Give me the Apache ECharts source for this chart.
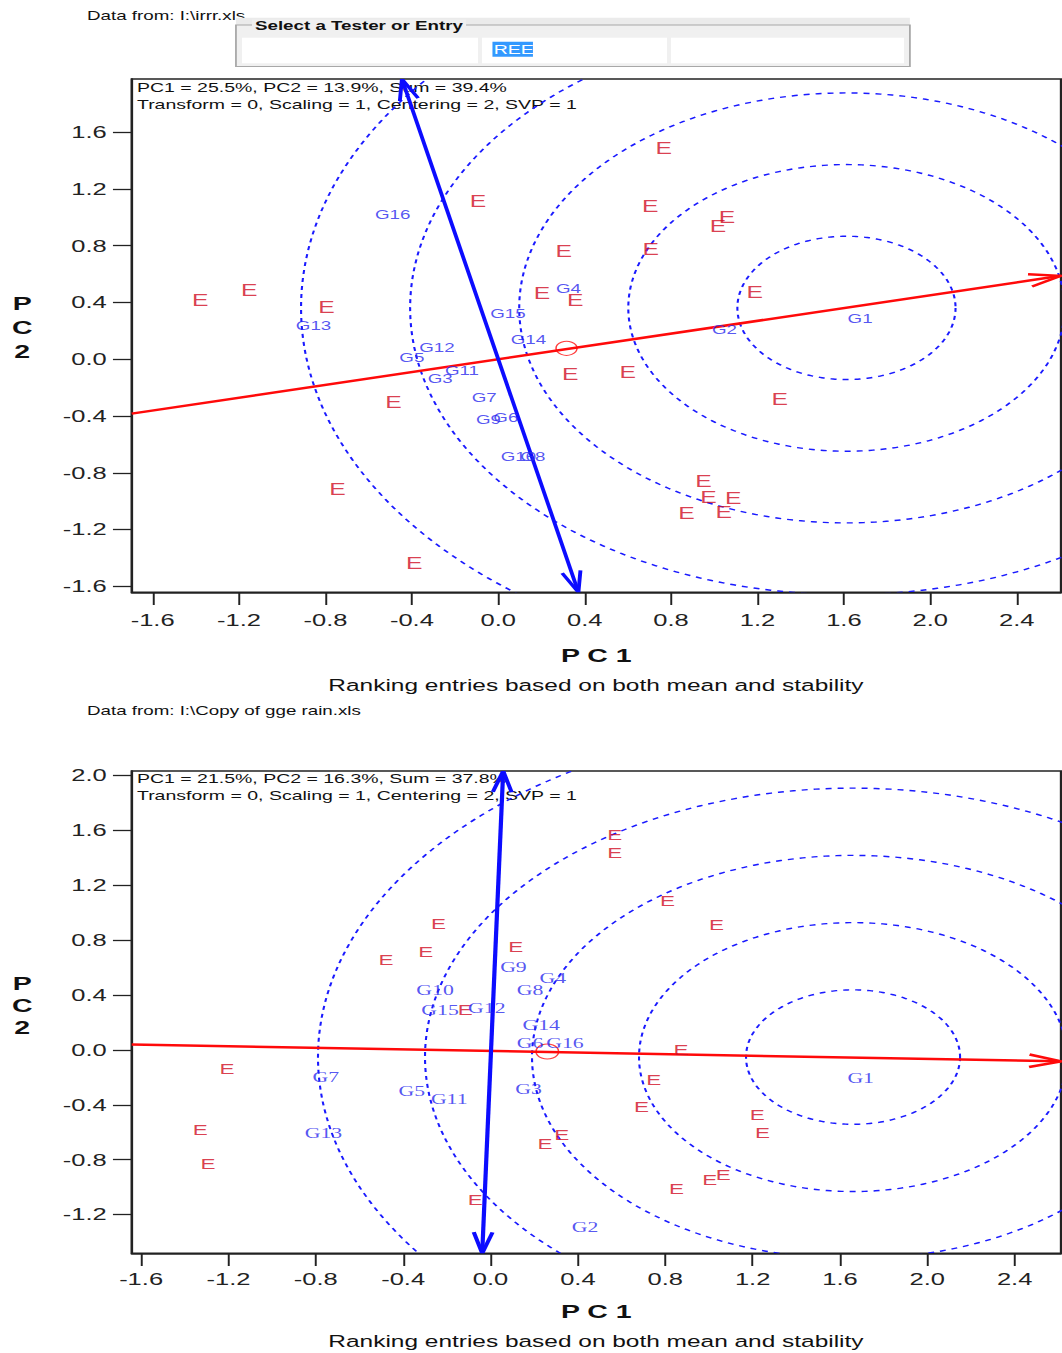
<!DOCTYPE html>
<html><head><meta charset="utf-8">
<script src="https://cdn.jsdelivr.net/npm/echarts@6/dist/echarts.min.js"></script>
<style>
html,body{margin:0;padding:0;background:#fff;overflow:hidden;width:1062px;height:1353px;}
#wrap{width:708px;height:1353px;transform:scaleX(1.5);transform-origin:0 0;}
#chart{width:708px;height:1353px;}
</style></head><body><div id="wrap"><div id="chart"></div></div>
<script>
// ---------------- DATA ----------------
// Top biplot (irrr.xls)
const topXRange = [-1.697, 2.605];
const topYRange = [-1.642, 1.975];
const topXTicks = [-1.6, -1.2, -0.8, -0.4, 0.0, 0.4, 0.8, 1.2, 1.6, 2.0, 2.4];
const topYTicks = [-1.6, -1.2, -0.8, -0.4, 0.0, 0.4, 0.8, 1.2, 1.6];
const topEnv = [[-0.094,1.114],[0.303,0.765],[-1.380,0.418],[-1.153,0.488],[-0.795,0.366],[0.202,0.465],
  [0.356,0.418],[0.766,1.487],[0.704,1.080],[1.059,1.001],[1.017,0.939],[0.706,0.775],[1.188,0.472],
  [-0.485,-0.303],[-0.744,-0.916],[-0.389,-1.438],[0.333,-0.104],[0.600,-0.087],[1.303,-0.282],
  [0.950,-0.856],[0.973,-0.968],[1.088,-0.980],[1.044,-1.074],[0.871,-1.081]];
const topGenoNames = ['G1','G2','G3','G4','G5','G6','G7','G8','G9','G10','G11','G12','G13','G14','G15','G16'];
const topGenoX = [1.675, 1.047, -0.269, 0.325, -0.400, 0.035, -0.065, 0.160, -0.045, 0.093, -0.168, -0.284, -0.855, 0.140, 0.045, -0.489];
const topGenoY = [0.284, 0.211, -0.134, 0.495, 0.009, -0.413, -0.271, -0.686, -0.428, -0.686, -0.080, 0.085, 0.235, 0.141, 0.324, 1.017];
const topAecPoint = [0.316, 0.077];
const topAecAbscissa = [-1.697, -0.383, 2.605, 0.588];
const topAecOrdinate = [-0.446, 1.975, 0.371, -1.642];
const topIdeal = [1.612, 0.362];
const topRadii = [0.505, 1.01, 1.515, 2.02, 2.525];

// Bottom biplot (Copy of gge rain.xls)
const botXRange = [-1.643, 2.612];
const botYRange = [-1.482, 2.033];
const botXTicks = [-1.6, -1.2, -0.8, -0.4, 0.0, 0.4, 0.8, 1.2, 1.6, 2.0, 2.4];
const botYTicks = [-1.2, -0.8, -0.4, 0.0, 0.4, 0.8, 1.2, 1.6, 2.0];
const botEnv = [[-0.238,0.918],[-0.296,0.716],[-0.478,0.656],[0.116,0.748],[-0.116,0.292],[0.569,1.567],
  [0.569,1.439],[0.810,1.087],[1.035,0.911],[-1.207,-0.137],[-1.329,-0.585],[-1.294,-0.833],[0.250,-0.687],
  [0.326,-0.622],[-0.070,-1.095],[0.872,0.001],[0.748,-0.217],[0.691,-0.416],[1.221,-0.476],[1.245,-0.605],
  [1.004,-0.949],[1.066,-0.913],[0.852,-1.015]];
const botGenoNames = ['G1','G2','G3','G4','G5','G6','G7','G8','G9','G10','G11','G12','G13','G14','G15','G16'];
const botGenoX = [1.695, 0.433, 0.174, 0.285, -0.360, 0.181, -0.754, 0.181, 0.105, -0.254, -0.189, -0.017, -0.765, 0.232, -0.231, 0.341];
const botGenoY = [-0.210, -1.289, -0.287, 0.525, -0.300, 0.045, -0.198, 0.433, 0.602, 0.433, -0.362, 0.307, -0.605, 0.183, 0.292, 0.045];
const botAecPoint = [0.260, -0.011];
const botAecAbscissa = [-1.643, 0.040, 2.612, -0.083];
const botAecOrdinate = [0.058, 2.033, -0.038, -1.482];
const botIdeal = [1.660, -0.052];
const botRadii = [0.49, 0.98, 1.47, 1.96, 2.45];

// ---------------- STYLE ----------------
const SANS = '"Liberation Sans", Arial, sans-serif';
const SERIF = '"Liberation Serif", "Times New Roman", serif';
const RED_TXT = '#d00c22', RED_LINE = '#ff0a0a', BLUE = '#0c0cff', DASH_BLUE = '#1a1aff', LABBLUE = '#2a2aee', AX = '#222';

const grids = [
  {left: 87.8, top: 79, width: 619.5, height: 513.3},
  {left: 87.8, top: 771, width: 619.5, height: 482.3}
].map(g => Object.assign(g, {show: true, borderColor: AX, borderWidth: 1.5, backgroundColor: 'transparent', containLabel: false, outerBoundsMode: 'none'}));

const fmt = v => Number(v).toFixed(1);
function xAxis(gi, range, ticks, margin, nameGap) {
  return {type: 'value', gridIndex: gi, min: range[0], max: range[1], position: 'bottom',
    axisLine: {show: true, onZero: false, lineStyle: {color: AX, width: 1.5}},
    axisTick: {show: true, length: 12.7, customValues: ticks, lineStyle: {color: AX, width: 1.3}},
    axisLabel: {show: true, customValues: ticks, formatter: fmt, margin, color: AX, fontFamily: SANS, fontSize: 17},
    splitLine: {show: false},
    name: 'P C 1', nameLocation: 'middle', nameGap, nameMoveOverlap: false,
    nameTextStyle: {fontFamily: SANS, fontWeight: 'bold', fontSize: 19, color: '#111', verticalAlign: 'middle', align: 'center'}};
}
function yAxis(gi, range, ticks, lh, padLh) {
  const st = {fontFamily: SANS, fontWeight: 'bold', fontSize: 19, lineHeight: lh, color: '#111', align: 'center'};
  return {type: 'value', gridIndex: gi, min: range[0], max: range[1], position: 'left',
    axisLine: {show: true, onZero: false, lineStyle: {color: AX, width: 1.5}},
    axisTick: {show: true, length: 12.5, customValues: ticks, lineStyle: {color: AX, width: 1.3}},
    axisLabel: {show: true, customValues: ticks, formatter: fmt, margin: 16.7, color: AX, fontFamily: SANS, fontSize: 17},
    splitLine: {show: false},
    name: '{a|P}\n{a|C}\n{a|2}\n{b|}', nameLocation: 'middle', nameGap: 73, nameRotate: 0, nameMoveOverlap: false,
    nameTextStyle: Object.assign({}, st, {verticalAlign: 'middle',
      rich: {a: st, b: {fontSize: 2, lineHeight: padLh}}})};
}

function circles(gi, center, radii) {
  return {type: 'custom', xAxisIndex: gi, yAxisIndex: gi, clip: true, silent: true, z: 2,
    data: radii.map(r => [center[0], center[1], r]), encode: {x: 0, y: 1},
    renderItem: (params, api) => {
      const c = api.coord([api.value(0), api.value(1)]);
      const s = api.size([api.value(2), api.value(2)]);
      const pts = [];
      for (let k = 0; k <= 360; k++) { const t = k / 360 * 2 * Math.PI; pts.push([c[0] + s[0] * Math.cos(t), c[1] + s[1] * Math.sin(t)]); }
      return {type: 'polyline', shape: {points: pts}, style: {stroke: DASH_BLUE, lineWidth: 1.4, lineDash: [4, 4], fill: null}};
    }};
}

function arrowLine(gi, seg, color, width, headStart, headEnd) {
  return {type: 'custom', xAxisIndex: gi, yAxisIndex: gi, clip: true, silent: true, z: 3,
    data: [seg], encode: {x: [0, 2], y: [1, 3]},
    renderItem: (params, api) => {
      const p0 = api.coord([api.value(0), api.value(1)]);
      const p1 = api.coord([api.value(2), api.value(3)]);
      const kids = [{type: 'line', shape: {x1: p0[0], y1: p0[1], x2: p1[0], y2: p1[1]}, style: {stroke: color, lineWidth: width}}];
      const head = (tip, from) => {
        const dx = from[0] - tip[0], dy = from[1] - tip[1], L = Math.hypot(dx, dy);
        const ux = dx / L, uy = dy / L, len = 22, a = 16.5 * Math.PI / 180;
        const arm = s => [tip[0] + len * (ux * Math.cos(s * a) - uy * Math.sin(s * a)), tip[1] + len * (ux * Math.sin(s * a) + uy * Math.cos(s * a))];
        return {type: 'polyline', shape: {points: [arm(1), tip, arm(-1)]}, style: {stroke: color, lineWidth: width, fill: null}};
      };
      if (headStart) kids.push(head(p0, p1));
      if (headEnd) kids.push(head(p1, p0));
      return {type: 'group', children: kids};
    }};
}

function envSeries(gi, pts, fontSize) {
  return {type: 'scatter', xAxisIndex: gi, yAxisIndex: gi, symbolSize: 1, silent: true, z: 5,
    itemStyle: {color: 'rgba(0,0,0,0)'}, data: pts,
    label: {show: true, position: 'inside', formatter: 'E', color: RED_TXT, fontFamily: SANS, fontSize}};
}
function genoSeries(gi, names, xs, ys, fontFamily, fontSize) {
  return {type: 'scatter', xAxisIndex: gi, yAxisIndex: gi, symbolSize: 1, silent: true, z: 5,
    itemStyle: {color: 'rgba(0,0,0,0)'}, data: names.map((n, i) => ({name: n, value: [xs[i], ys[i]]})),
    label: {show: true, position: 'inside', formatter: '{b}', color: LABBLUE, fontFamily, fontSize}};
}
function aecPoint(gi, p, size) {
  return {type: 'scatter', xAxisIndex: gi, yAxisIndex: gi, symbol: 'circle', symbolSize: size, silent: true, z: 4,
    itemStyle: {color: 'rgba(0,0,0,0)', borderColor: RED_LINE, borderWidth: 1}, data: [p]};
}

const txt = (x, y, text, font, extra) => ({type: 'text', x, y, silent: true,
  style: Object.assign({text, font, fill: '#111', align: 'left', verticalAlign: 'middle'}, extra || {})});

const graphic = [
  txt(58, 16, 'Data from: I:\\irrr.xls', '12.5px ' + SANS),
  {type: 'rect', shape: {x: 157.3, y: 17.7, width: 449.3, height: 7.5}, style: {fill: '#ebebeb'}, silent: true},
  {type: 'rect', shape: {x: 157.3, y: 25, width: 449.3, height: 41.5}, style: {fill: '#f0f0f0', stroke: '#a8a8a8', lineWidth: 1.2}, silent: true},
  {type: 'rect', shape: {x: 161.3, y: 37.7, width: 157.4, height: 25.6}, style: {fill: '#fff'}, silent: true},
  {type: 'rect', shape: {x: 321.3, y: 37.7, width: 123.4, height: 25.6}, style: {fill: '#fff'}, silent: true},
  {type: 'rect', shape: {x: 447.3, y: 37.7, width: 155.4, height: 25.6}, style: {fill: '#fff'}, silent: true},
  txt(168, 26, 'Select a Tester or Entry', 'bold 12.5px ' + SANS, {backgroundColor: '#f0f0f0', padding: [0, 2, 0, 2]}),
  {type: 'rect', shape: {x: 328.3, y: 41.7, width: 27, height: 15}, style: {fill: '#3399ff'}, silent: true},
  txt(329.2, 49.3, 'REE', '13px ' + SANS, {fill: '#fff'}),
  txt(91.3, 88, 'PC1 = 25.5%, PC2 = 13.9%, Sum = 39.4%', '13px ' + SANS),
  txt(91.3, 105, 'Transform = 0, Scaling = 1, Centering = 2, SVP = 1', '13px ' + SANS),
  txt(397.3, 685, 'Ranking entries based on both mean and stability', '16.3px ' + SANS, {align: 'center'}),
  txt(58, 711, 'Data from: I:\\Copy of gge rain.xls', '12.5px ' + SANS),
  txt(91.3, 779, 'PC1 = 21.5%, PC2 = 16.3%, Sum = 37.8%', '13px ' + SANS),
  txt(91.3, 796, 'Transform = 0, Scaling = 1, Centering = 2, SVP = 1', '13px ' + SANS),
  txt(397.3, 1341, 'Ranking entries based on both mean and stability', '16.3px ' + SANS, {align: 'center'})
];

const option = {
  animation: false,
  backgroundColor: '#fff',
  grid: grids,
  xAxis: [xAxis(0, topXRange, topXTicks, 19, 62.7), xAxis(1, botXRange, botXTicks, 17, 57.7)],
  yAxis: [yAxis(0, topYRange, topYTicks, 24, 16), yAxis(1, botYRange, botYTicks, 22, 14)],
  graphic,
  series: [
    circles(0, topIdeal, topRadii),
    arrowLine(0, topAecAbscissa, RED_LINE, 2.5, false, true),
    arrowLine(0, topAecOrdinate, BLUE, 2.6, true, true),
    aecPoint(0, topAecPoint, 14),
    envSeries(0, topEnv, 16.5),
    genoSeries(0, topGenoNames, topGenoX, topGenoY, SANS, 12.5),
    circles(1, botIdeal, botRadii),
    arrowLine(1, botAecAbscissa, RED_LINE, 2.5, false, true),
    arrowLine(1, botAecOrdinate, BLUE, 2.8, true, true),
    aecPoint(1, botAecPoint, 15),
    envSeries(1, botEnv, 15),
    genoSeries(1, botGenoNames, botGenoX, botGenoY, SERIF, 14.5)
  ]
};
const chart = echarts.init(document.getElementById('chart'), null, {renderer: 'svg'});
chart.setOption(option);
</script></body></html>
